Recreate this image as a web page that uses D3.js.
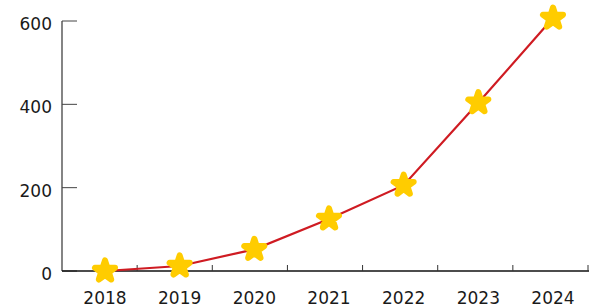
<!DOCTYPE html>
<html><head><meta charset="utf-8">
<script src="https://cdn.jsdelivr.net/npm/d3@7"></script>
<style>
html,body{margin:0;padding:0;background:#fff;}
svg{display:block;}
text{font-family:"DejaVu Sans",sans-serif;font-size:17px;fill:#1a1a1a;}
</style></head>
<body>
<svg id="chart" width="590" height="305"></svg>
<script>
const years = ["2018","2019","2020","2021","2022","2023","2024"];
const values = [0, 12, 52, 125, 206, 404, 607];
const yTicks = [0, 200, 400, 600];

(function(){
const svg = d3.select("#chart");
const mLeft = 62, mRight = 588, mTop = 21, mBottom = 271;

const y = d3.scaleLinear().domain([0, 600]).range([mBottom, mTop]);
const xBand = d3.scaleBand().domain(years).range([mLeft, mRight]);
const x = d3.scalePoint().domain(years).range([105, 553]);

// y axis
const yAxis = svg.append("g");
yAxis.append("line").attr("x1", mLeft).attr("x2", mLeft).attr("y1", mTop).attr("y2", mBottom)
  .attr("stroke", "#333").attr("stroke-width", 1.2);
yAxis.selectAll("line.tk").data(yTicks).join("line").attr("class","tk")
  .attr("x1", mLeft).attr("x2", mLeft + 15)
  .attr("y1", d => y(d)).attr("y2", d => y(d))
  .attr("stroke", "#444").attr("stroke-width", 1);
yAxis.selectAll("text").data(yTicks).join("text")
  .attr("x", 52).attr("y", d => y(d) + 9)
  .attr("text-anchor", "end").text(d => d);

// x axis
const xAxis = svg.append("g");
xAxis.append("line").attr("x1", mLeft).attr("x2", mRight + 1).attr("y1", mBottom).attr("y2", mBottom)
  .attr("stroke", "#111").attr("stroke-width", 1.5);
const bounds = years.slice(1).map(d => xBand(d)).concat([xBand(years[years.length-1]) + xBand.bandwidth()]);
xAxis.selectAll("line.tk").data(bounds).join("line").attr("class","tk")
  .attr("x1", d => d).attr("x2", d => d)
  .attr("y1", mBottom).attr("y2", mBottom - 6)
  .attr("stroke", "#333").attr("stroke-width", 1);
xAxis.selectAll("text").data(years).join("text")
  .attr("x", d => x(d)).attr("y", 303.5)
  .attr("text-anchor", "middle").text(d => d);

// line
const data = years.map((d, i) => ({year: d, value: values[i]}));
svg.append("path").datum(data)
  .attr("fill", "none").attr("stroke", "#cf1b22").attr("stroke-width", 2.2)
  .attr("d", d3.line().x(d => x(d.year)).y(d => y(d.value)));

// stars
svg.selectAll("path.star").data(data).join("path").attr("class","star")
  .attr("transform", d => `translate(${x(d.year)},${y(d.value)})`)
  .attr("d", d3.symbol().type(d3.symbolStar).size(125)())
  .attr("fill", "#ffcc00").attr("stroke", "#ffcc00")
  .attr("stroke-width", 6).attr("stroke-linejoin", "round");
})();
</script>
</body></html>
